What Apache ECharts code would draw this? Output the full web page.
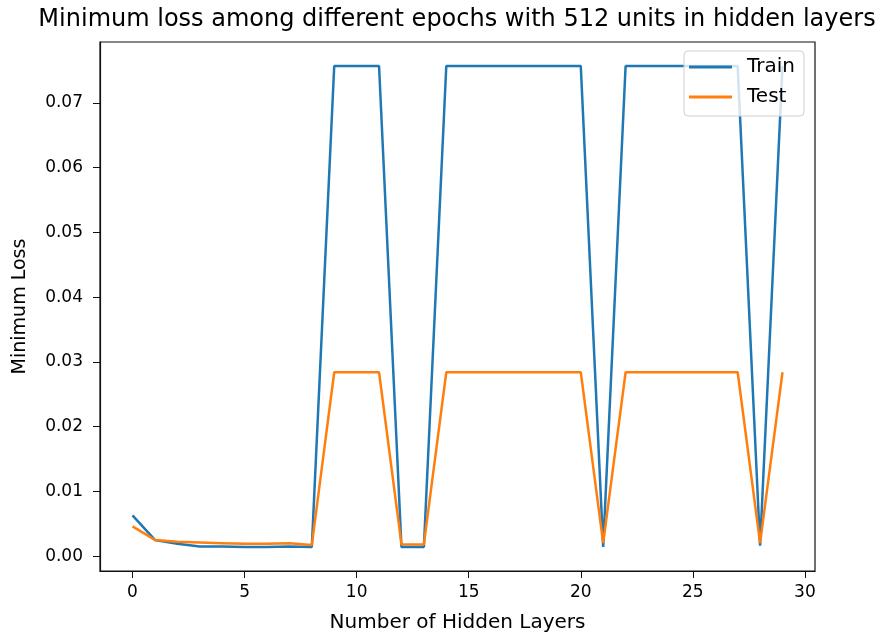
<!DOCTYPE html>
<html>
<head>
<meta charset="utf-8">
<script src="https://cdn.jsdelivr.net/npm/echarts@6/dist/echarts.min.js"></script>
<style>
  html, body { margin: 0; padding: 0; background: #fff; }
  #chart { width: 881px; height: 638px; }
</style>
</head>
<body>
<div id="chart"></div>
<script>
const layers = [0, 1, 2, 3, 4, 5, 6, 7, 8, 9, 10, 11, 12, 13, 14, 15, 16, 17, 18, 19,
  20, 21, 22, 23, 24, 25, 26, 27, 28, 29];
const trainLoss = [0.0063, 0.0025, 0.0019, 0.0015, 0.0015, 0.0014, 0.0014, 0.0015, 0.0014,
  0.0757, 0.0757, 0.0757, 0.0014, 0.0014,
  0.0757, 0.0757, 0.0757, 0.0757, 0.0757, 0.0757, 0.0757, 0.0014,
  0.0757, 0.0757, 0.0757, 0.0757, 0.0757, 0.0757, 0.0016, 0.0757];
const testLoss = [0.0046, 0.0025, 0.0022, 0.0021, 0.0020, 0.0019, 0.0019, 0.0020, 0.0017,
  0.0284, 0.0284, 0.0284, 0.0018, 0.0018,
  0.0284, 0.0284, 0.0284, 0.0284, 0.0284, 0.0284, 0.0284, 0.0020,
  0.0284, 0.0284, 0.0284, 0.0284, 0.0284, 0.0284, 0.0020, 0.0284];
const xTicks = [0, 5, 10, 15, 20, 25, 30];
const yTicks = [0, 0.01, 0.02, 0.03, 0.04, 0.05, 0.06, 0.07];

const font = 'DejaVu Sans';

function pairs(ys) {
  return layers.map((x, i) => [x, ys[i]]);
}

let myChart = echarts.init(document.getElementById('chart'));
option = {
  animation: false,
  backgroundColor: '#fff',
  title: {
    text: 'Minimum loss among different epochs with 512 units in hidden layers',
    left: 452,
    top: 3,
    textAlign: 'center',
    textStyle: { fontFamily: font, fontSize: 24, fontWeight: 'normal', color: '#000' }
  },
  grid: {
    left: 100, right: 66, top: 42, bottom: 65,
    show: true, borderColor: '#111', borderWidth: 1.2, backgroundColor: '#fff'
  },
  legend: {
    orient: 'vertical',
    right: 77,
    top: 51,
    padding: [6, 9, 9, 5],
    itemGap: 10,
    itemWidth: 43,
    itemHeight: 3,
    icon: 'rect',
    backgroundColor: 'rgba(255,255,255,0.8)',
    borderColor: '#d0d0d0',
    borderWidth: 1,
    borderRadius: 4,
    textStyle: { fontFamily: font, fontSize: 20, color: '#000', padding: [0, 0, 0, 10] },
    data: ['Train', 'Test']
  },
  xAxis: {
    type: 'value',
    min: -1.45,
    max: 30.45,
    name: 'Number of Hidden Layers',
    nameLocation: 'middle',
    nameGap: 42,
    nameTextStyle: { fontFamily: font, fontSize: 20, color: '#000' },
    axisLine: { show: true, onZero: false, lineStyle: { color: '#111', width: 1.2 } },
    axisTick: { show: true, length: 7, customValues: xTicks, lineStyle: { color: '#111' } },
    axisLabel: {
      customValues: xTicks, margin: 13,
      fontFamily: font, fontSize: 17, color: '#000'
    },
    splitLine: { show: false }
  },
  yAxis: {
    type: 'value',
    min: -0.0023,
    max: 0.0794,
    name: 'Minimum Loss',
    nameLocation: 'middle',
    nameGap: 70,
    nameTextStyle: { fontFamily: font, fontSize: 19, color: '#000' },
    axisLine: { show: true, onZero: false, lineStyle: { color: '#111', width: 1.2 } },
    axisTick: { show: true, length: 7, customValues: yTicks, lineStyle: { color: '#111' } },
    axisLabel: {
      customValues: yTicks, margin: 17,
      fontFamily: font, fontSize: 17, color: '#000',
      formatter: v => v.toFixed(2)
    },
    splitLine: { show: false }
  },
  series: [
    {
      name: 'Train',
      type: 'line',
      data: pairs(trainLoss),
      symbol: 'none',
      lineStyle: { color: '#1f77b4', width: 2.5 },
      itemStyle: { color: '#1f77b4' }
    },
    {
      name: 'Test',
      type: 'line',
      data: pairs(testLoss),
      symbol: 'none',
      lineStyle: { color: '#ff7f0e', width: 2.5 },
      itemStyle: { color: '#ff7f0e' }
    }
  ]
};
myChart.setOption(option);
</script>
</body>
</html>
